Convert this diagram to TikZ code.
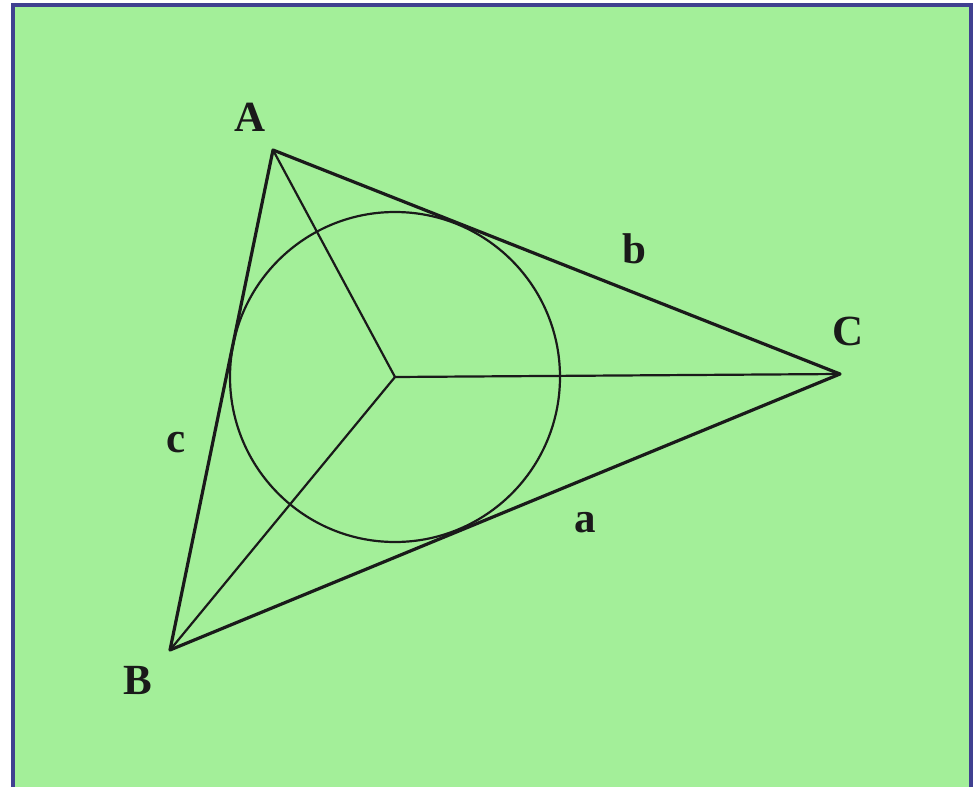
\documentclass[tikz,border=0pt]{standalone}
\usepackage{fontspec}
\setmainfont{Liberation Serif}
\usetikzlibrary{positioning}
\definecolor{leaf}{HTML}{A3EF99}
\definecolor{frame}{HTML}{404090}
\definecolor{ink}{HTML}{1A1A1A}

\begin{document}
\begin{tikzpicture}[x=0.5pt,y=-0.5pt,
  every node/.style={font=\fontsize{21.5}{24}\selectfont\bfseries,text=ink},
  side/.style={draw=ink,line width=1.6pt,line join=round},
  spoke/.style={draw=ink,line width=1.1pt}]
  \useasboundingbox (0,0) rectangle (976,787);
  \fill[white] (0,0) rectangle (976,787);
  \fill[leaf] (13,5) rectangle (971,800);
  \draw[frame,line width=1.8pt] (13,800) -- (13,5) -- (971,5) -- (971,800);
  % vertices and incentre
  \coordinate (A) at (273,150);
  \coordinate (B) at (170,650);
  \coordinate (C) at (840,374);
  \coordinate (O) at (395,377);
  \draw[spoke] (O) circle[radius=165];
  \draw[spoke] (O) -- (A);
  \draw[spoke] (O) -- (B);
  \draw[spoke] (O) -- (C);
  \draw[side] (A) -- (B) -- (C) -- cycle;
  % labels
  \node (la) at (250,117) {A};
  \node (lb) at (138,680) {B};
  \node (lc) at (848,331) {C};
  \node (sb) at (634,249) {b};
  \node (sc) at (176,443) {c};
  \node (sa) at (585,523) {a};
\end{tikzpicture}
\end{document}
